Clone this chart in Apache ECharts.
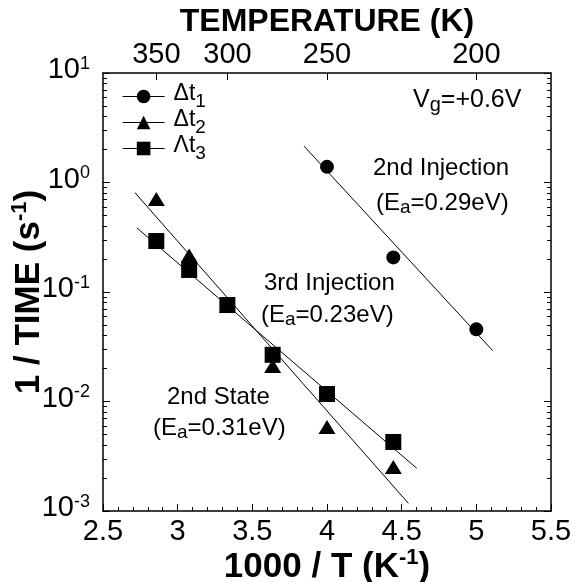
<!DOCTYPE html>
<html><head><meta charset="utf-8">
<script src="https://cdn.jsdelivr.net/npm/echarts@6/dist/echarts.min.js"></script>
<style>html,body{margin:0;padding:0;background:#fff}#c{width:576px;height:582px}</style>
</head><body><div id="c"></div>
<script>
// ---- data ----
const xMin = 2.5, xMax = 5.5, xStep = 0.5;
const tempTicks = [350, 300, 250, 200];          // K, top axis
const yMin = 1e-3, yMax = 10;
const legendNames = ['Δt1', 'Δt2', 'Λt3'];
const dt1X = [4.0, 4.444, 5.0];
const dt1Y = [1.39, 0.207, 0.0456];
const dt2X = [2.857, 3.077, 3.333, 3.636, 4.0, 4.444];
const dt2Y = [0.707, 0.215, 0.075, 0.0211, 0.00585, 0.00252];
const dt3X = [2.857, 3.077, 3.333, 3.636, 4.0, 4.444];
const dt3Y = [0.292, 0.159, 0.076, 0.0267, 0.0117, 0.00427];
const fitInjX = [3.846, 5.11];   const fitInjY = [2.15, 0.0291];     // 2nd Injection
const fitStateX = [2.714, 4.545]; const fitStateY = [0.807, 0.001175]; // 2nd State
const fit3rdX = [2.726, 4.601];  const fit3rdY = [0.386, 0.002455];   // 3rd Injection

const zip = (a, b) => a.map((v, i) => [v, b[i]]);
const FONT = 'Liberation Sans, Arial, Helvetica, sans-serif';
const tempPos = tempTicks.map(t => 1000 / t);

const chart = echarts.init(document.getElementById('c'), null, {renderer: 'canvas'});

const axisLine = {show: true, lineStyle: {color: '#000', width: 1.5}};
const majTick = {show: true, inside: true, length: 7, lineStyle: {color: '#000', width: 1}};
const supRich = (fs) => ({
  t: {fontFamily: FONT, fontWeight: 'bold', fontSize: fs, color: '#000'},
  u: {fontFamily: FONT, fontWeight: 'bold', fontSize: Math.round(fs * 0.62), color: '#000', padding: [0, 0, Math.round(fs * 0.5), 0]}
});

function pointSeries(name, xs, ys, symbol, size) {
  return {
    name, type: 'line', data: zip(xs, ys), symbol, symbolSize: size,
    itemStyle: {color: '#000'}, lineStyle: {width: 0, opacity: 0},
    xAxisIndex: 0, yAxisIndex: 0, z: 5
  };
}
function fitSeries(xs, ys) {
  return {
    type: 'line', data: zip(xs, ys), symbol: 'none',
    lineStyle: {color: '#000', width: 1}, xAxisIndex: 0, yAxisIndex: 0, z: 3, silent: true
  };
}

const annoText = (x, y, text, size) => ({
  type: 'text', x, y,
  style: {
    text, fill: '#000', font: size + 'px ' + FONT, textVerticalAlign: 'middle',
    rich: {
      n: {fontFamily: FONT, fontSize: size, color: '#000'},
      b: {fontFamily: FONT, fontSize: size - 5, color: '#000', padding: [10, 0, 0, 0]}
    }
  }
});

chart.setOption({
  animation: false,
  backgroundColor: '#fff',
  grid: {left: 103, right: 25, top: 73, bottom: 71, containLabel: false, outerBoundsMode: 'none'},
  xAxis: [{
    type: 'value', position: 'bottom', min: xMin, max: xMax, interval: xStep,
    axisLine, axisTick: majTick,
    minorTick: {show: true, splitNumber: 5, length: 4, lineStyle: {color: '#000', width: 1}},
    splitLine: {show: false},
    axisLabel: {color: '#000', fontFamily: FONT, fontSize: 29, margin: 6},
    name: '{t|1000 / T (K}{u|-1}{t|)}', nameLocation: 'middle', nameGap: 36, nameMoveOverlap: false,
    nameTextStyle: {rich: supRich(35)}
  }, {
    type: 'value', position: 'top', min: xMin, max: xMax,
    axisLine,
    axisTick: {show: true, inside: true, length: 7, lineStyle: {color: '#000', width: 1}, customValues: tempPos},
    axisLabel: {color: '#000', fontFamily: FONT, fontSize: 29, margin: 4, customValues: tempPos,
      formatter: v => String(Math.round(1000 / v))},
    splitLine: {show: false},
    name: 'TEMPERATURE (K)', nameLocation: 'middle', nameGap: 35, nameMoveOverlap: false,
    nameTextStyle: {fontFamily: FONT, fontWeight: 'bold', fontSize: 32, color: '#000'}
  }],
  yAxis: [{
    type: 'log', logBase: 10, position: 'left', min: yMin, max: yMax,
    axisLine, axisTick: majTick,
    minorTick: {show: true, splitNumber: 9, length: 4, lineStyle: {color: '#000', width: 1}},
    splitLine: {show: false},
    axisLabel: {
      margin: 13,
      formatter: v => '{b|10}{p|' + Math.round(Math.log10(v)) + '}',
      rich: {
        b: {fontFamily: FONT, fontSize: 29, color: '#000', padding: [0, 0, 6, 0]},
        p: {fontFamily: FONT, fontSize: 18, color: '#000', padding: [0, 0, 18, 0]}
      }
    },
    name: '{t|1 / TIME (s}{u|-1}{t|)}', nameLocation: 'middle', nameGap: 54, nameMoveOverlap: false,
    nameTextStyle: {rich: supRich(35)}
  }, {
    type: 'log', logBase: 10, position: 'right', min: yMin, max: yMax,
    axisLine, axisTick: majTick,
    minorTick: {show: true, splitNumber: 9, length: 4, lineStyle: {color: '#000', width: 1}},
    splitLine: {show: false}, axisLabel: {show: false}
  }],
  legend: {
    left: 122, top: 82, orient: 'vertical', padding: 0,
    itemWidth: 42, itemHeight: 17, itemGap: -3,
    data: legendNames,
    lineStyle: {color: '#000', width: 1.2, opacity: 1},
    formatter: name => '{m|' + name.slice(0, 2) + '}{s|' + name.slice(2) + '}',
    textStyle: {
      rich: {
        m: {fontFamily: FONT, fontSize: 23, color: '#000', lineHeight: 16, padding: [0, 0, 6, 4]},
        s: {fontFamily: FONT, fontSize: 19, color: '#000', lineHeight: 10, padding: [10, 0, 0, 0]}
      }
    }
  },
  graphic: [
    annoText(413, 100, '{n|V}{b|g}{n|=+0.6V}', 25),
    annoText(373, 168, '{n|2nd Injection}', 24),
    annoText(376, 203, '{n|(E}{b|a}{n|=0.29eV)}', 24),
    annoText(264, 283, '{n|3rd Injection}', 24),
    annoText(261, 315, '{n|(E}{b|a}{n|=0.23eV)}', 24),
    annoText(167, 397, '{n|2nd State}', 24),
    annoText(153, 428, '{n|(E}{b|a}{n|=0.31eV)}', 24)
  ],
  series: [
    pointSeries(legendNames[0], dt1X, dt1Y, 'circle', 14),
    pointSeries(legendNames[1], dt2X, dt2Y, 'triangle', [17, 14]),
    pointSeries(legendNames[2], dt3X, dt3Y, 'rect', 16),
    fitSeries(fitInjX, fitInjY),
    fitSeries(fitStateX, fitStateY),
    fitSeries(fit3rdX, fit3rdY)
  ]
});
</script>
</body></html>
